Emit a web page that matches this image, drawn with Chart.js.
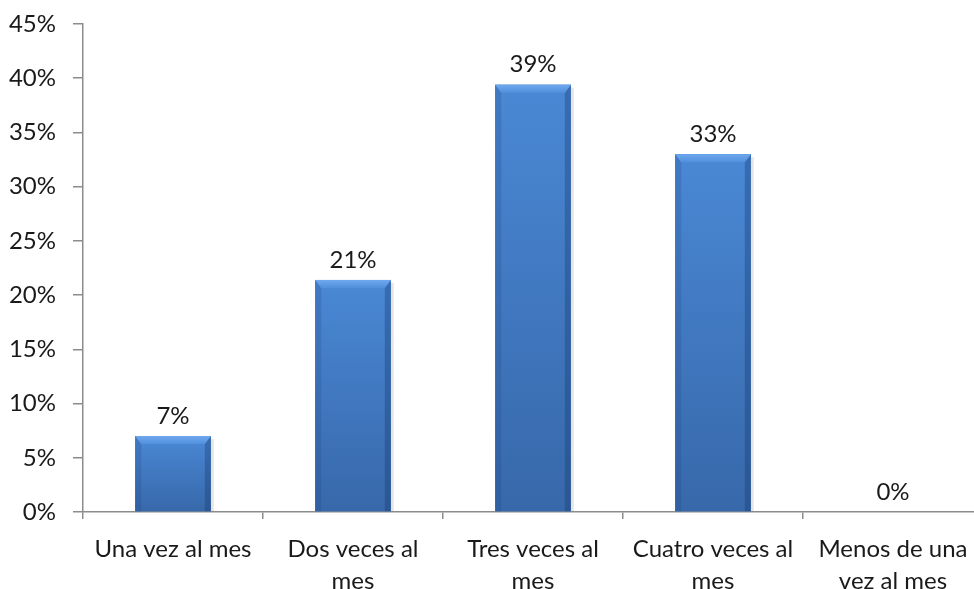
<!DOCTYPE html>
<html>
<head>
<meta charset="utf-8">
<script src="https://cdn.jsdelivr.net/npm/chart.js@4/dist/chart.umd.min.js"></script>
<style>
  html, body { margin: 0; padding: 0; background: #fff; overflow: hidden; }
  #wrap { position: relative; width: 974px; height: 589px; overflow: hidden; }
  #box  { position: absolute; left: 0; top: 0; width: 990px; height: 589px; }
</style>
</head>
<body>
<div id="wrap"><div id="box"><canvas id="chart"></canvas></div></div>
<script>
/* ---------- DATA ---------- */
const categories = [
  "Una vez al mes",
  ["Dos veces al", "mes"],
  ["Tres veces al", "mes"],
  ["Cuatro veces al", "mes"],
  ["Menos de una", "vez al mes"]
];
const percentages = [7.0, 21.4, 39.4, 33.0, 0];
const yTicks = [0, 5, 10, 15, 20, 25, 30, 35, 40, 45];

const FONT = { family: "Lato, 'Open Sans', sans-serif", size: 24 };
const TEXT = "#1a1a1a";
const AXIS = "#8c8c8c";

/* ---------- BEVEL BARS (Excel-like look) ---------- */
const bevelPlugin = {
  id: "bevel",
  afterDatasetsDraw(chart) {
    const ctx = chart.ctx;
    chart.getDatasetMeta(0).data.forEach(bar => {
      const h = bar.base - bar.y;
      if (h < 1) return;
      const x0 = bar.x - bar.width / 2, x1 = bar.x + bar.width / 2;
      const top = bar.y, bot = bar.base, b = 6;
      ctx.save();

      // soft shadow to the right
      ctx.fillStyle = "rgba(0,0,0,0.10)";
      ctx.fillRect(x1, top + 3, 3, h - 3);

      // body gradient (lighter on top, darker at bottom)
      const g = ctx.createLinearGradient(0, top, 0, bot);
      g.addColorStop(0, "#4a88d5");
      g.addColorStop(1, "#3768aa");
      ctx.fillStyle = g;
      ctx.fillRect(x0, top, x1 - x0, h);

      // left bevel
      ctx.fillStyle = "rgba(30,70,130,0.22)";
      ctx.beginPath();
      ctx.moveTo(x0, top); ctx.lineTo(x0 + b, top + b + 2);
      ctx.lineTo(x0 + b, bot); ctx.lineTo(x0, bot); ctx.closePath(); ctx.fill();

      // right bevel
      ctx.fillStyle = "rgba(20,50,100,0.32)";
      ctx.beginPath();
      ctx.moveTo(x1, top); ctx.lineTo(x1 - b, top + b + 2);
      ctx.lineTo(x1 - b, bot); ctx.lineTo(x1, bot); ctx.closePath(); ctx.fill();

      // top bevel highlight
      const tg = ctx.createLinearGradient(0, top, 0, top + b + 2);
      tg.addColorStop(0, "#6fa8ee");
      tg.addColorStop(1, "#5190dc");
      ctx.fillStyle = tg;
      ctx.beginPath();
      ctx.moveTo(x0, top); ctx.lineTo(x1, top);
      ctx.lineTo(x1 - b, top + b + 2); ctx.lineTo(x0 + b, top + b + 2);
      ctx.closePath(); ctx.fill();

      ctx.restore();
    });
  }
};

/* ---------- VALUE LABELS ---------- */
const valueLabels = {
  id: "valueLabels",
  afterDatasetsDraw(chart) {
    const ctx = chart.ctx;
    const data = chart.data.datasets[0].data;
    ctx.save();
    ctx.font = `${FONT.size}px ${FONT.family}`;
    ctx.fillStyle = TEXT;
    ctx.textAlign = "center";
    ctx.textBaseline = "middle";
    chart.getDatasetMeta(0).data.forEach((bar, i) => {
      ctx.fillText(Math.round(data[i]) + "%", bar.x, bar.y - 20);
    });
    ctx.restore();
  }
};

/* ---------- CHART ---------- */
new Chart(document.getElementById("chart"), {
  type: "bar",
  data: {
    labels: categories,
    datasets: [{
      data: percentages,
      backgroundColor: "#3f78c0",
      borderWidth: 0,
      barPercentage: 0.42,
      categoryPercentage: 1
    }]
  },
  options: {
    responsive: true,
    maintainAspectRatio: false,
    animation: false,
    layout: { autoPadding: false, padding: { top: 24, right: 7, left: 0, bottom: 0 } },
    plugins: { legend: { display: false }, tooltip: { enabled: false } },
    scales: {
      x: {
        grid: { display: true, drawOnChartArea: false, offset: true, color: AXIS, tickLength: 7, lineWidth: 1.5 },
        border: { color: AXIS, width: 1.5 },
        ticks: { color: TEXT, font: { ...FONT, lineHeight: 1.35 }, padding: 14, maxRotation: 0, autoSkip: false },
        afterFit: s => { s.height = 77; }
      },
      y: {
        min: 0,
        max: 45,
        afterBuildTicks: s => { s.ticks = yTicks.map(v => ({ value: v })); },
        grid: { display: true, drawOnChartArea: false, color: AXIS, tickLength: 10, lineWidth: 1.5 },
        border: { color: AXIS, width: 1.5 },
        ticks: { color: TEXT, font: FONT, padding: 17, callback: v => v + "%" },
        // fixed axis width; drop the label padding so the top stays at 24px
        afterFit: s => { s.width = 83; s.paddingTop = 0; s.paddingBottom = 0; }
      }
    }
  },
  plugins: [bevelPlugin, valueLabels]
});
</script>
</body>
</html>
